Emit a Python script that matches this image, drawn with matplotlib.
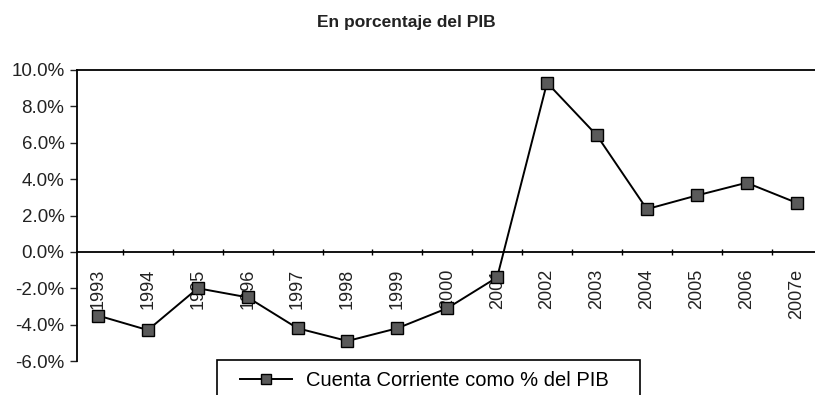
import matplotlib
matplotlib.use("Agg")
import matplotlib.pyplot as plt
from matplotlib.patches import Rectangle
from matplotlib.ticker import FuncFormatter, FixedLocator

plt.rcParams['font.family'] = ['Liberation Sans', 'DejaVu Sans']

years = ["1993", "1994", "1995", "1996", "1997", "1998", "1999", "2000",
         "2001", "2002", "2003", "2004", "2005", "2006", "2007e"]
cuenta_corriente = [-3.5, -4.3, -2.0, -2.5, -4.2, -4.9, -4.2, -3.1,
                    -1.4, 9.3, 6.4, 2.35, 3.1, 3.8, 2.7]
y_ticks = [-6, -4, -2, 0, 2, 4, 6, 8, 10]

fig = plt.figure(figsize=(8.15, 3.95), dpi=100)
ax = fig.add_axes([77 / 815, 1 - 361 / 395, 1 - 77 / 815, (361 - 70) / 395])

x = list(range(len(years)))
line, = ax.plot(x, cuenta_corriente, color="black", lw=1.4, marker="s",
                markersize=8, markerfacecolor="#5a5a5a", markeredgecolor="black",
                markeredgewidth=1.0, label="Cuenta Corriente como % del PIB",
                clip_on=False, zorder=3)

ax.set_xlim(-0.42, 14.37)
ax.set_ylim(-6, 10)

# eje horizontal en el 0%
ax.spines['bottom'].set_position(('data', 0))
ax.spines['right'].set_visible(False)
for s in ('left', 'top', 'bottom'):
    ax.spines[s].set_linewidth(1.3)
    ax.spines[s].set_color("black")

ax.set_xticks(x)
ax.set_xticklabels(years, rotation=90, fontsize=13)
ax.tick_params(axis='x', which='major', length=0, pad=12, colors="#222222")
ax.xaxis.set_minor_locator(FixedLocator([i + 0.5 for i in range(len(years) - 1)]))
ax.tick_params(axis='x', which='minor', length=4, direction='inout', width=1)

ax.set_yticks(y_ticks)
ax.yaxis.set_major_formatter(FuncFormatter(lambda v, p: f"{v:.1f}%"))
ax.tick_params(axis='y', length=5, width=1, labelsize=13.5, pad=4, colors="#222222")

fig.text(406 / 815, 1 - 23 / 395, "En porcentaje del PIB", ha="center", va="center",
         fontsize=12.5, fontweight="bold", color="#222222")

# caja de la leyenda, cortada por el borde inferior
fig.patches.append(Rectangle((217 / 815, -0.1), (640 - 217) / 815, 0.1 + (395 - 360) / 395,
                             transform=fig.transFigure, fill=False, ec="black", lw=1.2))
fig.legend(handles=[line], loc="center left",
           bbox_to_anchor=(240 / 815, 1 - 381 / 395), fontsize=14.5,
           frameon=False, handlelength=2.6, borderpad=0, borderaxespad=0,
           handletextpad=0.7, markerscale=0.85)

fig.savefig("out.png", dpi=100)
